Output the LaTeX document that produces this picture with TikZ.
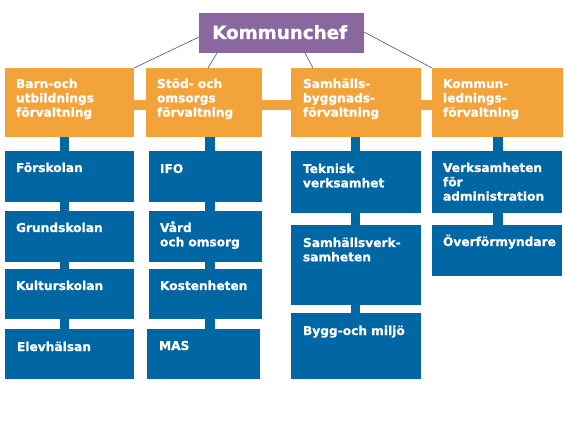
\documentclass[tikz,border=0pt]{standalone}
\usepackage{fontspec}
\setmainfont{DejaVu Sans}[BoldFeatures={FakeBold=0.8}]
\usetikzlibrary{backgrounds,calc}
\definecolor{kpurple}{RGB}{139,103,160}
\definecolor{korange}{RGB}{242,163,58}
\definecolor{kblue}{RGB}{0,102,164}
\definecolor{kline}{RGB}{55,85,140}
\tikzset{
  boxbase/.style={rectangle, inner sep=0pt, outer sep=0pt, anchor=north west},
  purplebox/.style={boxbase, fill=kpurple},
  orangebox/.style={boxbase, fill=korange, minimum height=69pt},
  bluebox/.style={boxbase, fill=kblue},
  boxtext/.style={anchor=base west, inner sep=0pt, outer sep=0pt, text=white, align=left,
    font=\fontsize{12.2}{14.3}\selectfont\bfseries},
  titletext/.style={anchor=base west, inner sep=0pt, text=white,
    font=\fontsize{18.3}{22}\selectfont\bfseries},
  orangeconn/.style={draw=korange, line width=9.5pt},
  blueconn/.style={draw=kblue, line width=9.5pt},
  thinline/.style={draw=kline, line width=0.6pt}
}
\begin{document}
\begin{tikzpicture}[x=1pt,y=-1pt]
\useasboundingbox (0,0) rectangle (567,443);
% top
\node[purplebox, minimum width=165pt, minimum height=40pt] (kc) at (199,13) {};
\node[titletext] (kct) at ([xshift=13pt,yshift=-26pt]kc.north west) {Kommunchef};
% orange
\node[orangebox, minimum width=129pt] (o1) at (5,68) {};
\node[orangebox, minimum width=116pt] (o2) at (146,68) {};
\node[orangebox, minimum width=130pt] (o3) at (291,68) {};
\node[orangebox, minimum width=131pt] (o4) at (432,68) {};
\node[boxtext, text width=115pt] (o1t) at ([xshift=11pt,yshift=-20pt]o1.north west) {Barn-och\\utbildnings\\förvaltning};
\node[boxtext, text width=105pt] (o2t) at ([xshift=11pt,yshift=-20pt]o2.north west) {Stöd- och\\omsorgs\\förvaltning};
\node[boxtext, text width=115pt] (o3t) at ([xshift=12pt,yshift=-20pt]o3.north west) {Samhälls-\\byggnads-\\förvaltning};
\node[boxtext, text width=115pt] (o4t) at ([xshift=11pt,yshift=-20pt]o4.north west) {Kommun-\\lednings-\\förvaltning};
% column 1
\node[bluebox, minimum width=129pt, minimum height=51pt] (b11) at (5,151) {};
\node[bluebox, minimum width=129pt, minimum height=51pt] (b12) at (5,211) {};
\node[bluebox, minimum width=129pt, minimum height=50pt] (b13) at (5,269) {};
\node[bluebox, minimum width=129pt, minimum height=50pt] (b14) at (5,329) {};
\node[boxtext, text width=115pt] (b11t) at ([xshift=11pt,yshift=-21pt]b11.north west) {Förskolan};
\node[boxtext, text width=115pt] (b12t) at ([xshift=11pt,yshift=-21pt]b12.north west) {Grundskolan};
\node[boxtext, text width=115pt] (b13t) at ([xshift=11pt,yshift=-21pt]b13.north west) {Kulturskolan};
\node[boxtext, text width=115pt] (b14t) at ([xshift=12pt,yshift=-22pt]b14.north west) {Elevhälsan};
% column 2
\node[bluebox, minimum width=113pt, minimum height=51pt] (b21) at (149,151) {};
\node[bluebox, minimum width=113pt, minimum height=51pt] (b22) at (149,211) {};
\node[bluebox, minimum width=113pt, minimum height=50pt] (b23) at (149,269) {};
\node[bluebox, minimum width=113pt, minimum height=50pt] (b24) at (147,329) {};
\node[boxtext, text width=100pt] (b21t) at ([xshift=11pt,yshift=-22pt]b21.north west) {IFO};
\node[boxtext, text width=100pt] (b22t) at ([xshift=11pt,yshift=-21pt]b22.north west) {Vård\\och omsorg};
\node[boxtext, text width=100pt] (b23t) at ([xshift=11pt,yshift=-21pt]b23.north west) {Kostenheten};
\node[boxtext, text width=100pt] (b24t) at ([xshift=12pt,yshift=-21pt]b24.north west) {MAS};
% column 3
\node[bluebox, minimum width=130pt, minimum height=62pt] (b31) at (291,151) {};
\node[bluebox, minimum width=130pt, minimum height=80pt] (b32) at (291,225) {};
\node[bluebox, minimum width=130pt, minimum height=66pt] (b33) at (291,313) {};
\node[boxtext, text width=115pt] (b31t) at ([xshift=12pt,yshift=-22pt]b31.north west) {Teknisk\\verksamhet};
\node[boxtext, text width=115pt] (b32t) at ([xshift=12pt,yshift=-22pt]b32.north west) {Samhällsverk-\\samheten};
\node[boxtext, text width=115pt] (b33t) at ([xshift=12pt,yshift=-22pt]b33.north west) {Bygg-och miljö};
% column 4
\node[bluebox, minimum width=130pt, minimum height=62pt] (b41) at (432,151) {};
\node[bluebox, minimum width=130pt, minimum height=51pt] (b42) at (432,225) {};
\node[boxtext, text width=118pt] (b41t) at ([xshift=11pt,yshift=-21pt]b41.north west) {Verksamheten\\för\\administration};
\node[boxtext, text width=118pt] (b42t) at ([xshift=11pt,yshift=-21pt]b42.north west) {Överförmyndare};
% connectors
\begin{pgfonlayer}{background}
\draw[orangeconn] ([yshift=-2.5pt]o1.east) -- ([yshift=-2.5pt]o2.west);
\draw[orangeconn] ([yshift=-2.5pt]o2.east) -- ([yshift=-2.5pt]o3.west);
\draw[orangeconn] ([yshift=-2.5pt]o3.east) -- ([yshift=-2.5pt]o4.west);
\draw[blueconn] ([xshift=-5pt]o1.south) -- ([xshift=-5pt]b11.north);
\draw[blueconn] ([xshift=-5pt]b11.south) -- ([xshift=-5pt]b12.north);
\draw[blueconn] ([xshift=-5pt]b12.south) -- ([xshift=-5pt]b13.north);
\draw[blueconn] ([xshift=-5pt]b13.south) -- ([xshift=-5pt]b14.north);
\draw[blueconn] ([xshift=6pt]o2.south) -- ([xshift=4.5pt]b21.north);
\draw[blueconn] ([xshift=4.5pt]b21.south) -- ([xshift=4.5pt]b22.north);
\draw[blueconn] ([xshift=4.5pt]b22.south) -- ([xshift=4.5pt]b23.north);
\draw[blueconn] ([xshift=4.5pt]b23.south) -- ([xshift=6.5pt]b24.north);
\draw[blueconn] ([xshift=-0.5pt]o3.south) -- ([xshift=-0.5pt]b31.north);
\draw[blueconn] ([xshift=-0.5pt]b31.south) -- ([xshift=-0.5pt]b32.north);
\draw[blueconn] ([xshift=-0.5pt]b32.south) -- ([xshift=-0.5pt]b33.north);
\draw[blueconn] ([xshift=0.5pt]o4.south) -- ([xshift=1pt]b41.north);
\draw[blueconn] ([xshift=1pt]b41.south) -- ([xshift=1pt]b42.north);
\end{pgfonlayer}
\draw[thinline] ([yshift=-4pt]kc.west) -- (o1.north east);
\draw[thinline] ([xshift=18pt]kc.south west) -- ([xshift=62pt]o2.north west);
\draw[thinline] ([xshift=-59pt]kc.south east) -- ([xshift=22pt]o3.north west);
\draw[thinline] ([yshift=1pt]kc.east) -- (o4.north west);
\end{tikzpicture}
\end{document}
